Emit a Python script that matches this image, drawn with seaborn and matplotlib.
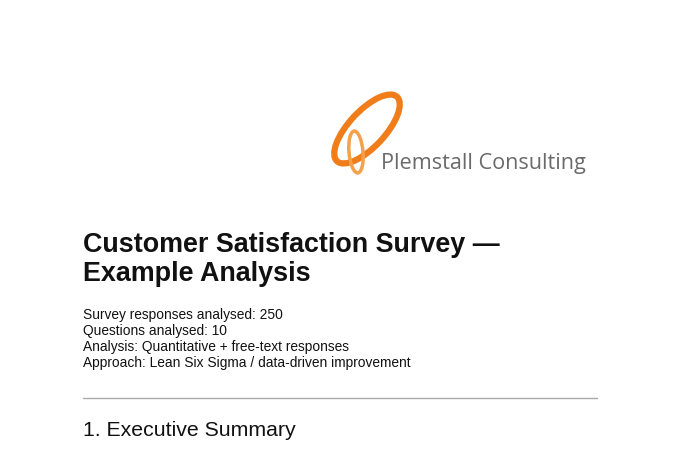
import matplotlib.pyplot as plt
import seaborn as sns
from matplotlib.patches import Ellipse

sns.set_theme(style="white")
plt.rcParams['font.family'] = ['Liberation Sans', 'DejaVu Sans']

company = "Plemstall Consulting"
title_lines = ["Customer Satisfaction Survey \u2014", "Example Analysis"]
info_lines = [
    "Survey responses analysed: 250",
    "Questions analysed: 10",
    "Analysis: Quantitative + free-text responses",
    "Approach: Lean Six Sigma / data-driven improvement",
]
section = "1. Executive Summary"

fig = plt.figure(figsize=(6.8, 4.59), dpi=100)
ax = fig.add_axes([0, 0, 1, 1])
ax.set_xlim(0, 680)
ax.set_ylim(459, 0)
ax.axis('off')

# logo
ax.add_patch(Ellipse((367, 129), 88, 36, angle=-47, fill=False,
                     ec='#f07d1a', lw=4.5))
ax.add_patch(Ellipse((356, 152), 14, 42, angle=-5, fill=False,
                     ec='#f5a04a', lw=2.5))
ax.text(381, 164, company, fontsize=15.6, color='#6a6a6a', va='center',
        family=['Open Sans', 'DejaVu Sans'])

for i, line in enumerate(title_lines):
    ax.text(83, 245 + i * 29, line, fontsize=19.4, fontweight='bold',
            color='#111111', va='center')

for i, line in enumerate(info_lines):
    ax.text(83, 315 + i * 16, line, fontsize=9.9, color='#111111', va='center')

ax.plot([83, 597], [398, 398], color='#aaaaaa', lw=1)
ax.text(83, 431, section, fontsize=15.3, color='#111111', va='center')

fig.savefig('out.png', dpi=100)
